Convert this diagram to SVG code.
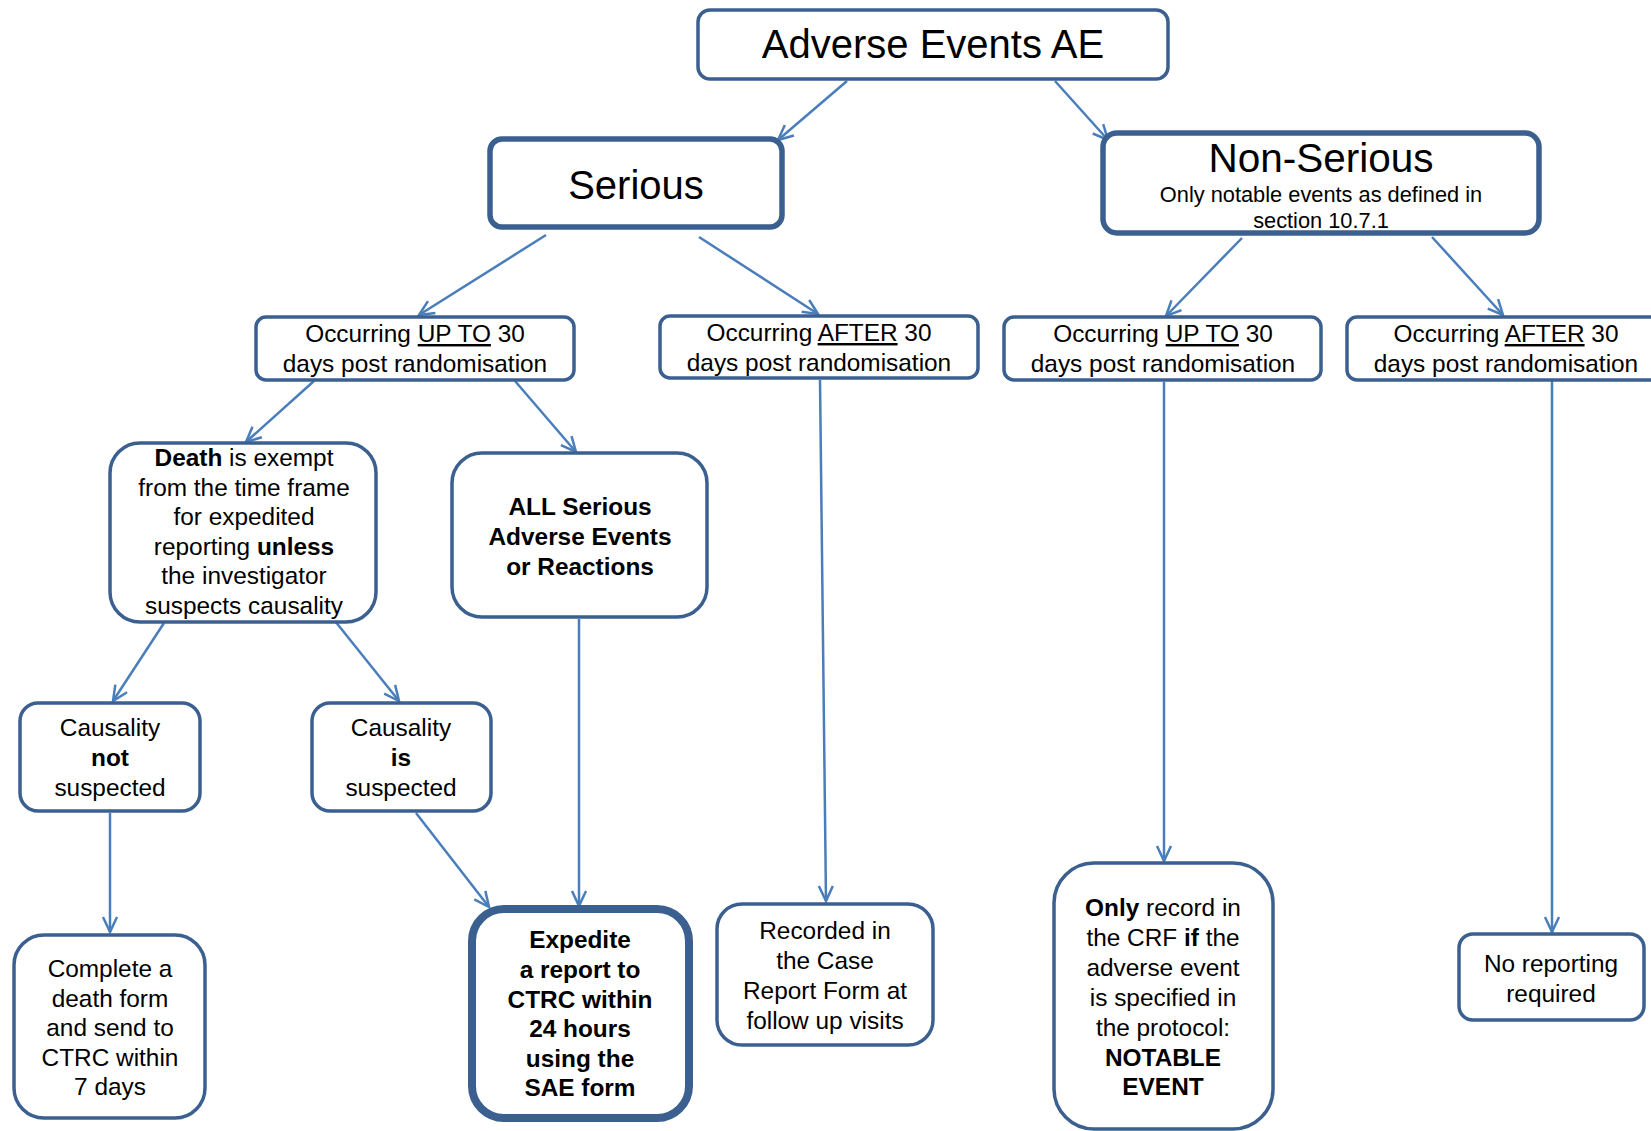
<svg xmlns="http://www.w3.org/2000/svg" width="1651" height="1131" viewBox="0 0 1651 1131">
<style>
  .box { fill: #ffffff; stroke: #3B6090; stroke-width: 3.5; }
  .thick { stroke-width: 5.5; }
  .xthick { stroke-width: 8; }
  .conn { stroke: #4A7EBB; stroke-width: 2.5; fill: none; marker-end: url(#arr); }
  text { font-family: "Liberation Sans", Arial, sans-serif; font-size: 24.4px; fill: #000; text-anchor: middle; }
  .b { font-weight: bold; }
  .u { text-decoration: underline; }
</style>
<defs>
  <marker id="arr" markerUnits="userSpaceOnUse" markerWidth="20" markerHeight="20" viewBox="0 0 20 20" refX="17" refY="10" orient="auto">
    <path d="M2,3 L17,10 L2,17" fill="none" stroke="#4A7EBB" stroke-width="2.5"/>
  </marker>
</defs>
<rect width="1651" height="1131" fill="#ffffff"/>

<g id="connectors">
  <line class="conn" x1="847" y1="81" x2="778" y2="140"/>
  <line class="conn" x1="1055" y1="81" x2="1108" y2="140"/>
  <line class="conn" x1="546" y1="235" x2="419" y2="315"/>
  <line class="conn" x1="699" y1="237" x2="818" y2="314"/>
  <line class="conn" x1="1242" y1="238" x2="1166" y2="316"/>
  <line class="conn" x1="1432" y1="237" x2="1503" y2="315"/>
  <line class="conn" x1="314" y1="381" x2="246" y2="442"/>
  <line class="conn" x1="515" y1="381" x2="576" y2="452"/>
  <line class="conn" x1="820" y1="380" x2="826" y2="901"/>
  <line class="conn" x1="1164" y1="382" x2="1164" y2="861"/>
  <line class="conn" x1="1552" y1="373" x2="1552" y2="932"/>
  <line class="conn" x1="164" y1="623" x2="113" y2="701"/>
  <line class="conn" x1="335" y1="621" x2="399" y2="701"/>
  <line class="conn" x1="579" y1="619" x2="579" y2="906"/>
  <line class="conn" x1="110" y1="813" x2="110" y2="932"/>
  <line class="conn" x1="416" y1="813" x2="489" y2="907"/>
</g>

<g id="n-ae">
  <rect class="box" x="698" y="10" width="470" height="69" rx="12"/>
  <text x="933" y="58" style="font-size:40px">Adverse Events AE</text>
</g>

<g id="n-serious">
  <rect class="box thick" x="490" y="139" width="292" height="88" rx="12"/>
  <text x="636" y="199" style="font-size:40px">Serious</text>
</g>

<g id="n-nonserious">
  <rect class="box thick" x="1103" y="133" width="436" height="100" rx="14"/>
  <text x="1321" y="172" style="font-size:40.5px">Non-Serious</text>
  <text x="1321" y="202" style="font-size:21.8px">Only notable events as defined in</text>
  <text x="1321" y="228" style="font-size:21.8px">section 10.7.1</text>
</g>

<g id="n-s-upto">
  <rect class="box" x="256" y="317" width="318" height="63" rx="10"/>
  <text x="415" y="342">Occurring <tspan class="u">UP TO</tspan> 30</text>
  <text x="415" y="372">days post randomisation</text>
</g>

<g id="n-s-after">
  <rect class="box" x="660" y="316" width="318" height="62" rx="10"/>
  <text x="819" y="341">Occurring <tspan class="u">AFTER</tspan> 30</text>
  <text x="819" y="371">days post randomisation</text>
</g>

<g id="n-ns-upto">
  <rect class="box" x="1004" y="317" width="317" height="63" rx="10"/>
  <text x="1163" y="342">Occurring <tspan class="u">UP TO</tspan> 30</text>
  <text x="1163" y="372">days post randomisation</text>
</g>

<g id="n-ns-after">
  <rect class="box" x="1347" y="317" width="318" height="63" rx="10"/>
  <text x="1506" y="342">Occurring <tspan class="u">AFTER</tspan> 30</text>
  <text x="1506" y="372">days post randomisation</text>
</g>

<g id="n-death">
  <rect class="box" x="110" y="443" width="266" height="179" rx="30"/>
  <text x="244" y="466"><tspan class="b">Death</tspan> is exempt</text>
  <text x="244" y="496">from the time frame</text>
  <text x="244" y="525">for expedited</text>
  <text x="244" y="555">reporting <tspan class="b">unless</tspan></text>
  <text x="244" y="584">the investigator</text>
  <text x="244" y="614">suspects causality</text>
</g>

<g id="n-all">
  <rect class="box" x="452" y="453" width="255" height="164" rx="30"/>
  <text class="b" x="580" y="515">ALL Serious</text>
  <text class="b" x="580" y="545">Adverse Events</text>
  <text class="b" x="580" y="575">or Reactions</text>
</g>

<g id="n-cnot">
  <rect class="box" x="20" y="703" width="180" height="108" rx="18"/>
  <text x="110" y="736">Causality</text>
  <text class="b" x="110" y="766">not</text>
  <text x="110" y="796">suspected</text>
</g>

<g id="n-cis">
  <rect class="box" x="312" y="703" width="179" height="108" rx="18"/>
  <text x="401" y="736">Causality</text>
  <text class="b" x="401" y="766">is</text>
  <text x="401" y="796">suspected</text>
</g>

<g id="n-complete">
  <rect class="box" x="14" y="935" width="191" height="183" rx="30"/>
  <text x="110" y="977">Complete  a</text>
  <text x="110" y="1007">death form</text>
  <text x="110" y="1036">and send to</text>
  <text x="110" y="1066">CTRC within</text>
  <text x="110" y="1095">7 days</text>
</g>

<g id="n-expedite">
  <rect class="box xthick" x="472" y="909" width="217" height="209" rx="32"/>
  <text class="b" x="580" y="948">Expedite</text>
  <text class="b" x="580" y="978">a report to</text>
  <text class="b" x="580" y="1008">CTRC within</text>
  <text class="b" x="580" y="1037">24 hours</text>
  <text class="b" x="580" y="1067">using the</text>
  <text class="b" x="580" y="1096">SAE form</text>
</g>

<g id="n-recorded">
  <rect class="box" x="717" y="904" width="216" height="141" rx="25"/>
  <text x="825" y="939">Recorded in</text>
  <text x="825" y="969">the Case</text>
  <text x="825" y="999">Report Form at</text>
  <text x="825" y="1029">follow  up visits</text>
</g>

<g id="n-only">
  <rect class="box" x="1054" y="863" width="219" height="266" rx="40"/>
  <text x="1163" y="916"><tspan class="b">Only</tspan> record in</text>
  <text x="1163" y="946">the CRF <tspan class="b">if</tspan> the</text>
  <text x="1163" y="976">adverse event</text>
  <text x="1163" y="1006">is specified in</text>
  <text x="1163" y="1036">the protocol:</text>
  <text class="b" x="1163" y="1066">NOTABLE</text>
  <text class="b" x="1163" y="1095">EVENT</text>
</g>

<g id="n-noreport">
  <rect class="box" x="1459" y="934" width="185" height="86" rx="14"/>
  <text x="1551" y="972">No reporting</text>
  <text x="1551" y="1002">required</text>
</g>
</svg>
